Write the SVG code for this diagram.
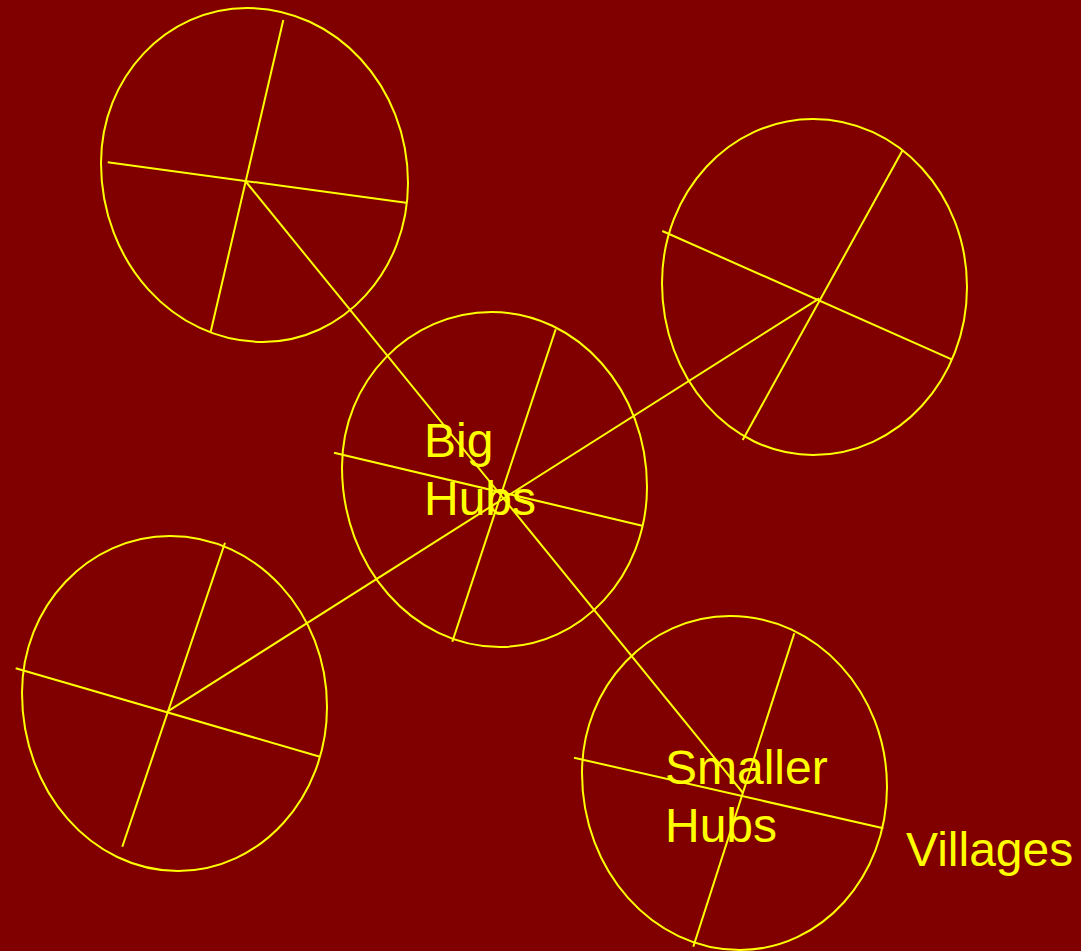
<svg xmlns="http://www.w3.org/2000/svg" width="1081" height="951" viewBox="0 0 1081 951">
<style>
.ring{fill:none;stroke:#FFFF00;stroke-width:2}
.ln{stroke:#FFFF00;stroke-width:2;fill:none}
.lbl{fill:#FFFF00;font-family:"Liberation Sans",Arial,sans-serif;font-size:48px}
</style>
<rect x="0" y="0" width="1081" height="951" fill="#800000"/>
<g id="connectors">
<line class="ln" x1="245.3" y1="181" x2="743" y2="793"/>
<line class="ln" x1="167.3" y1="711.7" x2="819.3" y2="298.3"/>
</g>
<g id="hub-top-left">
<path class="ring" d="M101,163 C101,77.4 166.4,8 247,8 C335.9,8 408,86.3 408,183 C408,270.8 343.1,342 263,342 C173.5,342 101,261.9 101,163 Z"/>
<line class="ln" x1="283.3" y1="20" x2="210.7" y2="331.7"/>
<line class="ln" x1="107.7" y1="162.3" x2="406" y2="202.7"/>
</g>
<g id="hub-big">
<path class="ring" d="M342,467 C342,381.4 409.2,312 492,312 C577.6,312 647,390.3 647,487 C647,575.4 581.2,647 500,647 C412.7,647 342,566.4 342,467 Z"/>
<line class="ln" x1="334" y1="452.7" x2="642.3" y2="525.7"/>
<line class="ln" x1="555.7" y1="329.3" x2="452.3" y2="641.7"/>
<text class="lbl"><tspan x="424" y="457">Big</tspan><tspan x="424" y="514.5">Hubs</tspan></text>
</g>
<g id="hub-right">
<path class="ring" d="M662,283 C662,192.4 729.6,119 813,119 C898.1,119 967,194.2 967,287 C967,379.8 898.1,455 813,455 C729.6,455 662,378 662,283 Z"/>
<line class="ln" x1="902.3" y1="150.7" x2="742.7" y2="440"/>
<line class="ln" x1="662.3" y1="231" x2="951.7" y2="359.3"/>
</g>
<g id="hub-bottom-left">
<path class="ring" d="M22,693 C22,606.3 88.3,536 170,536 C256.7,536 327,612.6 327,707 C327,797.6 260.3,871 178,871 C91.8,871 22,791.3 22,693 Z"/>
<line class="ln" x1="15.7" y1="668.3" x2="320" y2="756.7"/>
<line class="ln" x1="225" y1="542.7" x2="122.3" y2="846.7"/>
</g>
<g id="hub-smaller">
<path class="ring" d="M582,773 C582,686.3 648.3,616 730,616 C816.7,616 887,692.6 887,787 C887,877 821.2,950 740,950 C652.7,950 582,870.8 582,773 Z"/>
<line class="ln" x1="574" y1="757.7" x2="883.3" y2="828.3"/>
<line class="ln" x1="794.3" y1="633.3" x2="693.3" y2="946.7"/>
<text class="lbl"><tspan x="665" y="784">Smaller</tspan><tspan x="665" y="841.5">Hubs</tspan></text>
</g>
<g id="label-villages">
<text class="lbl" x="906" y="866">Villages</text>
</g>
</svg>
